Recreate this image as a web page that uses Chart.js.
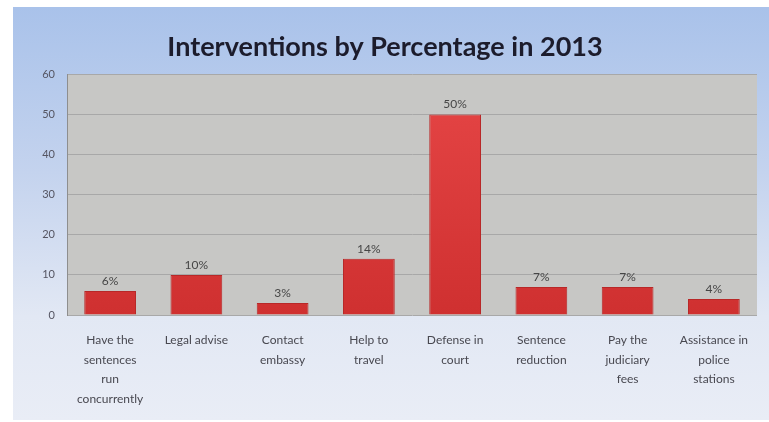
<!DOCTYPE html>
<html>
<head>
<meta charset="utf-8">
<script src="https://cdn.jsdelivr.net/npm/chart.js@4"></script>
<style>
  html, body { margin: 0; padding: 0; background: #ffffff; }
  #panel {
    position: absolute; left: 13px; top: 7px; width: 756px; height: 413px;
    background: linear-gradient(to bottom, #a9c2ea 0%, #c4d3ee 40%, #e2e8f4 75%, #e9edf6 100%);
  }
  canvas { display: block; }
</style>
</head>
<body>
<div id="panel"><canvas id="chart" width="756" height="413"></canvas></div>
<script>
// Dados
const categories = [
  ["Have the", "sentences", "run", "concurrently"],
  ["Legal advise"],
  ["Contact", "embassy"],
  ["Help to", "travel"],
  ["Defense in", "court"],
  ["Sentence", "reduction"],
  ["Pay the", "judiciary", "fees"],
  ["Assistance in", "police", "stations"],
];
const values = [6, 10, 3, 14, 50, 7, 7, 4];
const valueLabels = ["6%", "10%", "3%", "14%", "50%", "7%", "7%", "4%"];

// Fundo cinza da área do gráfico
const plotBackground = {
  id: "plotBackground",
  beforeDraw(chart) {
    const { ctx, chartArea: a } = chart;
    ctx.save();
    ctx.fillStyle = "#c7c7c5";
    ctx.fillRect(a.left, a.top, a.right - a.left, a.bottom - a.top);
    ctx.restore();
  },
};

// Rótulos de valor acima das barras
const valueLabelsPlugin = {
  id: "valueLabels",
  afterDatasetsDraw(chart) {
    const { ctx } = chart;
    const meta = chart.getDatasetMeta(0);
    ctx.save();
    ctx.font = "12px Lato, 'DejaVu Sans', sans-serif";
    ctx.fillStyle = "#464646";
    ctx.textAlign = "center";
    ctx.textBaseline = "bottom";
    meta.data.forEach((bar, i) => {
      ctx.fillText(valueLabels[i], bar.x, bar.y - 4);
    });
    ctx.restore();
  },
};

const ctx = document.getElementById("chart").getContext("2d");
new Chart(ctx, {
  type: "bar",
  data: {
    labels: categories,
    datasets: [
      {
        data: values,
        backgroundColor: (c) => {
          const area = c.chart.chartArea;
          if (!area) return "#d63434";
          const g = c.chart.ctx.createLinearGradient(0, area.top, 0, area.bottom);
          g.addColorStop(0, "#e64646");
          g.addColorStop(1, "#cf3030");
          return g;
        },
        borderColor: "#b82828",
        borderWidth: 1,
        barPercentage: 0.6,
        categoryPercentage: 1,
      },
    ],
  },
  plugins: [plotBackground, valueLabelsPlugin],
  options: {
    responsive: false,
    animation: false,
    layout: { padding: { left: 0, right: 12, top: 0, bottom: 0 } },
    plugins: {
      legend: { display: false },
      tooltip: { enabled: false },
      title: {
        display: true,
        text: "Interventions by Percentage in 2013",
        color: "#1c1c2c",
        font: { family: "Lato, 'DejaVu Sans', sans-serif", size: 27, weight: "bold" },
        padding: { top: 24, bottom: 11 },
      },
    },
    scales: {
      y: {
        min: 0,
        max: 60,
        ticks: {
          stepSize: 10,
          color: "#555562",
          padding: 12,
          font: { family: "Lato, 'DejaVu Sans', sans-serif", size: 11 },
        },
        grid: { color: "#a8a8a8", drawTicks: false },
        border: { display: true, color: "#8e8e8e" },
        afterFit(scale) { scale.width = 54; },
      },
      x: {
        ticks: {
          color: "#484850",
          padding: 15,
          maxRotation: 0,
          autoSkip: false,
          font: { family: "Lato, 'DejaVu Sans', sans-serif", size: 12, lineHeight: 1.65 },
        },
        grid: { display: false, drawTicks: false },
        border: { display: false },
        afterFit(scale) { scale.height = 105; },
      },
    },
  },
});
</script>
</body>
</html>
